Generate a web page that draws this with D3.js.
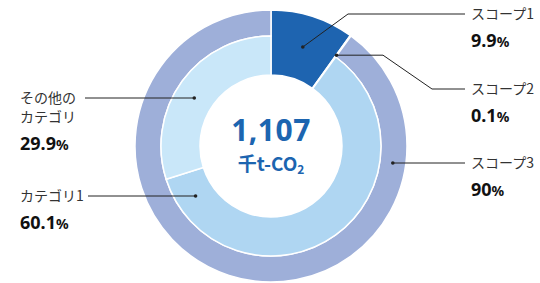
<!DOCTYPE html>
<html>
<head>
<meta charset="utf-8">
<script src="https://cdn.jsdelivr.net/npm/d3@7"></script>
<style>
  body { margin: 0; background: #fff; }
  svg { display: block; }
</style>
</head>
<body>
<script>
const w = 540;
const h = 283;

// data
const scopeNames = ['スコープ1', 'スコープ2', 'スコープ3'];
const scopeValues = [9.9, 0.1, 90];
const categoryNames = ['カテゴリ1', 'その他の\nカテゴリ'];
const categoryValues = [60.1, 29.9];
const totalValue = '1,107';
const totalUnit = '千t-CO';

const cx = 271, cy = 146;
const rHole = 71, rMid = 110, rOuter = 136;
const tau = 2 * Math.PI;

const scopeColors = ['#1e64b0', '#aebde0', '#9eafd9'];
const catColors = ['#afd6f2', '#c9e7f9'];

const svg = d3.select('body').append('svg')
    .attr('width', w)
    .attr('height', h);

const g = svg.append('g').attr('transform', `translate(${cx},${cy})`);

const outerPie = d3.pie().sort(null).value(d => d);
const scopeArcs = outerPie(scopeValues);

// scope 1 and 2 go through both rings, scope 3 only the outer ring
const arcFull = d3.arc().innerRadius(rHole).outerRadius(rOuter);
const arcRing = d3.arc().innerRadius(rMid).outerRadius(rOuter);

g.selectAll('path.scope')
    .data(scopeArcs)
    .enter()
    .append('path')
        .attr('class', 'scope')
        .attr('d', (d, i) => i < 2 ? arcFull(d) : arcRing(d))
        .attr('fill', (d, i) => scopeColors[i])
        .attr('stroke', '#fff')
        .attr('stroke-width', 1.5);

// inner ring splits scope 3
const innerPie = d3.pie().sort(null).value(d => d)
    .startAngle(scopeArcs[2].startAngle)
    .endAngle(tau);
const catArcs = innerPie(categoryValues);
const arcInner = d3.arc().innerRadius(rHole).outerRadius(rMid);

g.selectAll('path.cat')
    .data(catArcs)
    .enter()
    .append('path')
        .attr('class', 'cat')
        .attr('d', arcInner)
        .attr('fill', (d, i) => catColors[i])
        .attr('stroke', '#fff')
        .attr('stroke-width', 1.5);

// center text
g.append('text')
    .text(totalValue)
    .attr('text-anchor', 'middle')
    .attr('y', -5)
    .attr('font-family', 'Noto Sans, sans-serif')
    .attr('font-weight', 'bold')
    .attr('font-size', 30)
    .attr('letter-spacing', 0.5)
    .attr('fill', '#1c65b0');

const unit = g.append('text')
    .attr('text-anchor', 'middle')
    .attr('y', 25)
    .attr('font-family', 'Noto Sans CJK JP, sans-serif')
    .attr('font-weight', 'bold')
    .attr('font-size', 19)
    .attr('fill', '#1c65b0');
unit.append('tspan').text(totalUnit);
unit.append('tspan').text('2').attr('font-size', 12).attr('dy', 3);

// leader lines
const lineColor = '#222';
function pointAt(angle, r) {
    return [cx + r * Math.sin(angle), cy - r * Math.cos(angle)];
}
function pointOnY(y, r, side) {
    const dy = y - cy;
    return [cx + side * Math.sqrt(r * r - dy * dy), y];
}

const rightX = 471, lineEndR = 465;
const rightY = [14, 89, 163];

const rightDots = [
    pointAt((scopeArcs[0].startAngle + scopeArcs[0].endAngle) / 2, 104),
    pointAt((scopeArcs[1].startAngle + scopeArcs[1].endAngle) / 2, 112),
    pointOnY(rightY[2], (rMid + rOuter) / 2, 1)
];
const rightPaths = [
    [rightDots[0], [348, rightY[0]], [lineEndR, rightY[0]]],
    [rightDots[1], [383, rightDots[1][1]], [432, rightY[1]], [lineEndR, rightY[1]]],
    [rightDots[2], [lineEndR, rightY[2]]]
];

const leftY = [196, 98];
const leftDots = leftY.map(y => pointOnY(y, (rHole + rMid) / 2, -1));
const leftStart = [88, 85];
const leftPaths = leftDots.map((d, i) => [[leftStart[i], leftY[i]], d]);

const line = d3.line();
svg.selectAll('path.leader')
    .data(rightPaths.concat(leftPaths))
    .enter()
    .append('path')
        .attr('class', 'leader')
        .attr('d', line)
        .attr('fill', 'none')
        .attr('stroke', lineColor)
        .attr('stroke-width', 1);

svg.selectAll('circle.dot')
    .data(rightDots.concat(leftDots))
    .enter()
    .append('circle')
        .attr('class', 'dot')
        .attr('cx', d => d[0])
        .attr('cy', d => d[1])
        .attr('r', 1.8)
        .attr('fill', lineColor);

// labels
function addLabel(x, y, name, value) {
    const lines = name.split('\n');
    lines.forEach((t, i) => {
        svg.append('text')
            .text(t)
            .attr('x', x)
            .attr('y', y + 5 + i * 19)
            .attr('font-family', 'Noto Sans CJK JP, sans-serif')
            .attr('font-size', 14)
            .attr('fill', '#333');
    });
    const pct = svg.append('text')
        .attr('x', x)
        .attr('y', y + 6 + (lines.length - 1) * 19 + 27)
        .attr('font-family', 'Noto Sans, sans-serif')
        .attr('font-weight', 'bold')
        .attr('font-size', 18)
        .attr('fill', '#111');
    pct.append('tspan').text(value);
    pct.append('tspan').text('%').attr('font-size', 14);
}

scopeNames.forEach((n, i) => addLabel(rightX, rightY[i], n, scopeValues[i]));
categoryNames.forEach((n, i) => addLabel(20, leftY[i], n, categoryValues[i]));
</script>
</body>
</html>
